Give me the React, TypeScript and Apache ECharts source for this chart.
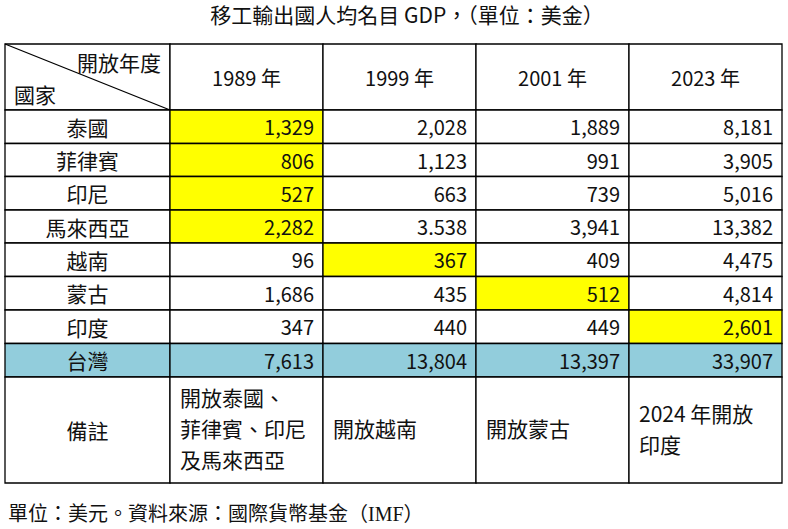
import React, { useEffect, useRef } from "react";
import * as echarts from "echarts";

const titleText = "移工輸出國人均名目 GDP，（單位：美金）";
const footText = "單位：美元。資料來源：國際貨幣基金（IMF）";
const cornerTop = "開放年度";
const cornerBottom = "國家";
const years = ["1989 年", "1999 年", "2001 年", "2023 年"];
const countries = ["泰國", "菲律賓", "印尼", "馬來西亞", "越南", "蒙古", "印度", "台灣"];
const gdp1989 = ["1,329", "806", "527", "2,282", "96", "1,686", "347", "7,613"];
const gdp1999 = ["2,028", "1,123", "663", "3.538", "367", "435", "440", "13,804"];
const gdp2001 = ["1,889", "991", "739", "3,941", "409", "512", "449", "13,397"];
const gdp2023 = ["8,181", "3,905", "5,016", "13,382", "4,475", "4,814", "2,601", "33,907"];
// year column (0..3) in which each country was opened; -1 = Taiwan (reference row)
const openedCol = [0, 0, 0, 0, 1, 2, 3, -1];
const noteLabel = "備註";
const notes = ["開放泰國、\n菲律賓、印尼\n及馬來西亞", "開放越南", "開放蒙古", "2024 年開放\n印度"];

// layout (pixel edges of the table grid)
const COL_EDGES = [0, 165, 318, 471, 624, 777];
const ROW_EDGES = [0, 66, 99.5, 132.5, 166, 199, 232.5, 266, 299.5, 333, 439];

const YELLOW = "#FFFF00";
const BLUE = "#92CDDC";
const FONT = "'Noto Sans CJK TC', 'Noto Sans', sans-serif";

export default function App() {
  const ref = useRef<HTMLDivElement>(null);
  useEffect(() => {
    if (!ref.current) return;
    const chart = echarts.init(ref.current, null, { renderer: "svg" });
    const cols = [gdp1989, gdp1999, gdp2001, gdp2023];
    type Cell = { value: number[]; kind: string; text: string; fill: string };
    const cells: Cell[] = [];
    cells.push({ value: [0, 0], kind: "corner", text: "", fill: "#fff" });
    years.forEach((y, c) => cells.push({ value: [c + 1, 0], kind: "center", text: y, fill: "#fff" }));
    countries.forEach((name, r) => {
      const isTw = openedCol[r] === -1;
      cells.push({ value: [0, r + 1], kind: "center", text: name, fill: isTw ? BLUE : "#fff" });
      cols.forEach((arr, c) => {
        const fill = isTw ? BLUE : openedCol[r] === c ? YELLOW : "#fff";
        cells.push({ value: [c + 1, r + 1], kind: "right", text: arr[r], fill });
      });
    });
    const noteRow = countries.length + 1;
    cells.push({ value: [0, noteRow], kind: "center", text: noteLabel, fill: "#fff" });
    notes.forEach((n, c) => cells.push({ value: [c + 1, noteRow], kind: "left", text: n, fill: "#fff" }));

    chart.setOption({
      animation: false,
      graphic: [
        {
          type: "text",
          x: 407,
          y: 14,
          style: {
            text: titleText,
            align: "center",
            verticalAlign: "middle",
            font: `21px ${FONT}`,
            fill: "#111",
          },
        },
        {
          type: "text",
          left: 8,
          top: 504,
          style: {
            text: footText,
            font: "20px 'Liberation Serif', 'Noto Sans CJK TC', serif",
            fill: "#111",
          },
        },
      ],
      grid: { left: 5, top: 44, width: 777, height: 439 },
      xAxis: { type: "value", min: 0, max: 777, show: false },
      yAxis: { type: "value", min: 0, max: 439, inverse: true, show: false },
      series: [
        {
          type: "custom",
          coordinateSystem: "cartesian2d",
          data: cells,
          renderItem: (params: any, api: any) => {
            const cell = cells[params.dataIndex];
            const c = cell.value[0];
            const r = cell.value[1];
            const p0 = api.coord([COL_EDGES[c], ROW_EDGES[r]]);
            const p1 = api.coord([COL_EDGES[c + 1], ROW_EDGES[r + 1]]);
            const x = p0[0], y = p0[1], w = p1[0] - p0[0], h = p1[1] - p0[1];
            const children: any[] = [
              {
                type: "rect",
                shape: { x, y, width: w, height: h },
                style: { fill: cell.fill, stroke: "#000", lineWidth: 1.3 },
              },
            ];
            const isNum = cell.kind === "right";
            const fs = isNum || /^\d/.test(cell.text) ? 20 : 21;
            if (cell.kind === "corner") {
              children.push({
                type: "line",
                shape: { x1: x, y1: y, x2: x + w, y2: y + h },
                style: { stroke: "#000", lineWidth: 1.3 },
              });
              children.push({
                type: "text",
                style: { text: cornerTop, x: x + w - 9, y: y + 18, align: "right", verticalAlign: "middle", font: `21px ${FONT}`, fill: "#111" },
              });
              children.push({
                type: "text",
                style: { text: cornerBottom, x: x + 9, y: y + 50, align: "left", verticalAlign: "middle", font: `21px ${FONT}`, fill: "#111" },
              });
            } else if (cell.kind === "center") {
              children.push({
                type: "text",
                style: { text: cell.text, x: x + w / 2, y: y + h / 2, align: "center", verticalAlign: "middle", font: `${fs}px ${FONT}`, fill: "#111" },
              });
            } else if (cell.kind === "right") {
              children.push({
                type: "text",
                style: { text: cell.text, x: x + w - 9, y: y + h / 2, align: "right", verticalAlign: "middle", font: `20px ${FONT}`, fill: "#111" },
              });
            } else {
              children.push({
                type: "text",
                style: { text: cell.text, x: x + 10, y: y + h / 2 - 2, align: "left", verticalAlign: "middle", font: `21px ${FONT}`, fill: "#111", lineHeight: 31 },
              });
            }
            return { type: "group", children };
          },
        },
      ],
    });
    return () => chart.dispose();
  }, []);
  return <div ref={ref} style={{ width: 788, height: 529, position: "absolute", left: 0, top: 0 }} />;
}
